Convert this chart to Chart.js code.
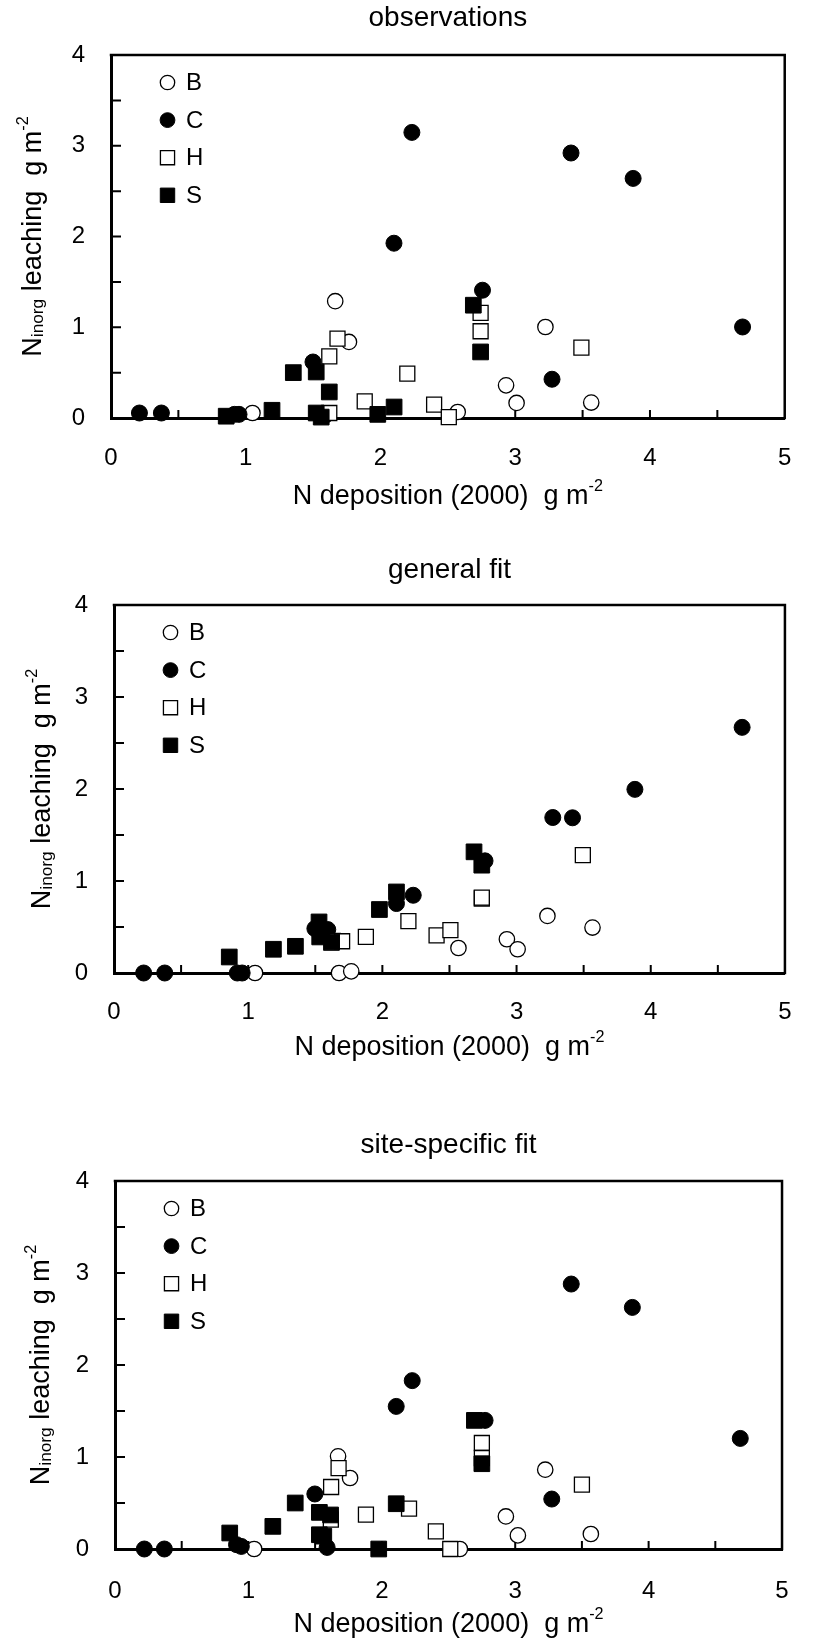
<!DOCTYPE html>
<html>
<head>
<meta charset="utf-8">
<title>N leaching vs N deposition</title>
<script src="https://cdn.jsdelivr.net/npm/chart.js@4.4.1/dist/chart.umd.min.js"></script>
<style>
  html, body { margin: 0; padding: 0; background: #fff; }
  body { width: 817px; height: 1640px; position: relative; overflow: hidden; }
  canvas { position: absolute; left: 0; }
</style>
</head>
<body>
<canvas id="panel0" width="817" height="530"></canvas>
<canvas id="panel1" width="817" height="555"></canvas>
<canvas id="panel2" width="817" height="555"></canvas>
<script>
const SERIES = ["B", "C", "H", "S"];
const PANEL_TITLES = ["observations", "general fit", "site-specific fit"];
const X_TICKS = [0, 1, 2, 3, 4, 5];
const Y_TICKS = [0, 1, 2, 3, 4];
const X_TICK_MARKS = [0.5, 1, 1.5, 2, 2.5, 3, 3.5, 4, 4.5];
const Y_TICK_MARKS = [0.5, 1, 1.5, 2, 2.5, 3, 3.5];
const X_TITLE = [{ t: "N deposition (2000)  g m" }, { t: "-2", sup: true }];
const Y_TITLE = [{ t: "N" }, { t: "inorg", sub: true }, { t: " leaching  g m" }, { t: "-2", sup: true }];

// observations
const obsBx = [1.05, 1.664, 1.766, 2.573, 2.932, 3.01, 3.224, 3.564];
const obsBy = [0.055, 1.287, 0.838, 0.066, 0.36, 0.166, 1.003, 0.17];
const obsCx = [0.211, 0.374, 0.916, 0.95, 1.499, 1.59, 2.10, 2.233, 2.757, 3.273, 3.414, 3.875, 4.687];
const obsCy = [0.055, 0.055, 0.04, 0.04, 0.617, 0.03, 1.926, 3.147, 1.408, 0.427, 2.92, 2.64, 1.003];
const obsHx = [1.62, 1.62, 1.681, 1.883, 2.199, 2.398, 2.507, 2.743, 2.743, 3.491];
const obsHy = [0.055, 0.68, 0.875, 0.184, 0.49, 0.148, 0.01, 1.158, 0.956, 0.776];
const obsSx = [0.855, 1.195, 1.353, 1.523, 1.523, 1.56, 1.62, 1.98, 2.101, 2.689, 2.743];
const obsSy = [0.02, 0.085, 0.50, 0.507, 0.055, 0.01, 0.287, 0.04, 0.121, 1.243, 0.728];

// general fit
const genBx = [1.051, 1.677, 1.768, 2.567, 2.928, 3.008, 3.23, 3.566];
const genBy = [0, 0, 0.018, 0.272, 0.367, 0.258, 0.62, 0.494];
const genCx = [0.221, 0.378, 0.919, 0.955, 1.497, 1.593, 2.105, 2.23, 2.765, 3.27, 3.417, 3.882, 4.681];
const genCy = [0, 0, 0, 0, 0.483, 0.472, 0.755, 0.845, 1.219, 1.69, 1.687, 1.996, 2.67];
const genHx = [1.62, 1.63, 1.70, 1.877, 2.194, 2.404, 2.507, 2.741, 2.741, 3.494];
const genHy = [0.33, 0.35, 0.345, 0.392, 0.563, 0.41, 0.465, 0.81, 0.82, 1.281];
const genSx = [0.859, 1.188, 1.352, 1.528, 1.533, 1.55, 1.622, 1.978, 2.105, 2.683, 2.741];
const genSy = [0.174, 0.258, 0.29, 0.555, 0.392, 0.45, 0.337, 0.69, 0.881, 1.317, 1.172];

// site-specific fit
const siteBx = [1.043, 1.672, 1.762, 2.585, 2.93, 3.02, 3.225, 3.567];
const siteBy = [0, 1.007, 0.772, 0, 0.354, 0.148, 0.862, 0.163];
const siteCx = [0.22, 0.37, 0.911, 0.947, 1.498, 1.59, 2.108, 2.228, 2.774, 3.274, 3.42, 3.878, 4.687];
const siteCy = [0, 0, 0.047, 0.028, 0.598, 0.017, 1.55, 1.83, 1.398, 0.543, 2.88, 2.626, 1.202];
const siteHx = [1.618, 1.62, 1.676, 1.881, 2.204, 2.405, 2.513, 2.75, 2.75, 3.5];
const siteHy = [0.32, 0.674, 0.88, 0.373, 0.438, 0.191, 0, 1.152, 0.989, 0.699];
const siteSx = [0.86, 1.183, 1.351, 1.532, 1.532, 1.565, 1.616, 1.977, 2.108, 2.694, 2.75];
const siteSy = [0.174, 0.246, 0.5, 0.398, 0.155, 0.14, 0.37, 0, 0.492, 1.398, 0.927];

const PANEL_X = [[obsBx, obsCx, obsHx, obsSx], [genBx, genCx, genHx, genSx], [siteBx, siteCx, siteHx, siteSx]];
const PANEL_Y = [[obsBy, obsCy, obsHy, obsSy], [genBy, genCy, genHy, genSy], [siteBy, siteCy, siteHy, siteSy]];

// page placement of each panel (canvas top, plot box edges inside the canvas)
const LAYOUT = [
    { top: 0, height: 530, left: 111, right: 797, plotTop: 55, plotBottom: 418, titleY: 18, tickPad: 25.6, xTitleDy: 76, yTitleX: 31 },
    { top: 530, height: 555, left: 114, right: 808, plotTop: 75, plotBottom: 443, titleY: 40, tickPad: 25.4, xTitleDy: 72.5, yTitleX: 40 },
    { top: 1085, height: 555, left: 115, right: 808, plotTop: 96, plotBottom: 464, titleY: 60, tickPad: 28.3, xTitleDy: 73.5, yTitleX: 39 },
];

const FONT = '"Liberation Sans", Arial, Helvetica, sans-serif';
const TITLE_SIZE = 28;
const STYLE = {
    B: { shape: "circle", r: 7.7, fill: "#ffffff", bw: 1.3, legendR: 7.2 },
    C: { shape: "circle", r: 8.0, fill: "#000000", bw: 1, legendR: 7.4 },
    H: { shape: "rect", r: 10.6, fill: "#ffffff", bw: 1.3, legendR: 10.0 },
    S: { shape: "rect", r: 11.1, fill: "#000000", bw: 1, legendR: 10.2 },
};

Chart.defaults.font.family = FONT;
Chart.defaults.color = "#000";

function layoutRich(ctx, parts, size) {
    let w = 0;
    const segs = parts.map(p => {
        const s = p.sub ? size * 0.64 : p.sup ? size * 0.6 : size;
        ctx.font = `${s}px ${FONT}`;
        const seg = { t: p.t, s, x: w, dy: p.sub ? size * 0.1 : p.sup ? -size * 0.48 : 0 };
        w += ctx.measureText(p.t).width;
        return seg;
    });
    return { segs, width: w };
}

function drawRich(ctx, rich, x0, baseline) {
    rich.segs.forEach(seg => {
        ctx.font = `${seg.s}px ${FONT}`;
        ctx.fillText(seg.t, x0 + seg.x, baseline + seg.dy);
    });
}

// top/right frame lines and the inward tick marks
const frame = {
    id: "frame",
    beforeDatasetsDraw(chart) {
        const { ctx, chartArea: a, scales: { x, y } } = chart;
        ctx.save();
        ctx.strokeStyle = "#000";
        ctx.lineCap = "square";
        ctx.lineWidth = 2.5;
        ctx.beginPath();
        ctx.moveTo(a.left, a.top);
        ctx.lineTo(a.right, a.top);
        ctx.lineTo(a.right, a.bottom);
        ctx.stroke();
        ctx.lineCap = "butt";
        ctx.lineWidth = 2;
        ctx.beginPath();
        X_TICK_MARKS.forEach(v => {
            const px = x.getPixelForValue(v);
            ctx.moveTo(px, a.bottom);
            ctx.lineTo(px, a.bottom - 8);
        });
        Y_TICK_MARKS.forEach(v => {
            const py = y.getPixelForValue(v);
            ctx.moveTo(a.left, py);
            ctx.lineTo(a.left + 10, py);
        });
        ctx.stroke();
        ctx.restore();
    },
};

// axis titles with sub/superscripts
const axisTitles = {
    id: "axisTitles",
    afterDraw(chart, args, opts) {
        const { ctx, chartArea: a } = chart;
        const F = 27;
        ctx.save();
        ctx.fillStyle = "#000";
        ctx.textBaseline = "alphabetic";
        const rx = layoutRich(ctx, X_TITLE, F);
        drawRich(ctx, rx, (a.left + a.right) / 2 - rx.width / 2, a.bottom + opts.xDy + 0.358 * F);
        const ry = layoutRich(ctx, Y_TITLE, F);
        ctx.translate(opts.yX, (a.top + a.bottom) / 2);
        ctx.rotate(-Math.PI / 2);
        drawRich(ctx, ry, -ry.width / 2, 0.358 * F);
        ctx.restore();
    },
};

// legend in the upper-left corner of the plot box
const cornerLegend = {
    id: "cornerLegend",
    afterDatasetsDraw(chart) {
        const { ctx, chartArea: a } = chart;
        chart.data.datasets.forEach((ds, i) => {
            const st = STYLE[ds.label];
            const cx = a.left + 56.5;
            const cy = a.top + 27.5 + i * 37.6;
            ctx.save();
            ctx.fillStyle = st.fill;
            ctx.strokeStyle = "#000";
            ctx.lineWidth = st.bw;
            if (Chart.helpers && Chart.helpers.drawPoint) {
                Chart.helpers.drawPoint(ctx, { pointStyle: st.shape, radius: st.legendR, rotation: 0, borderWidth: st.bw }, cx, cy);
            } else {
                ctx.beginPath();
                ctx.arc(cx, cy, st.legendR, 0, Math.PI * 2);
                ctx.fill();
                ctx.stroke();
            }
            ctx.fillStyle = "#000";
            ctx.font = `24px ${FONT}`;
            ctx.textBaseline = "middle";
            ctx.fillText(ds.label, cx + 18.5, cy + 1);
            ctx.restore();
        });
    },
};

function buildPanel(p) {
    const L = LAYOUT[p];
    const canvas = document.getElementById(`panel${p}`);
    canvas.style.top = `${L.top}px`;

    const datasets = SERIES.map((name, i) => ({
        label: name,
        data: PANEL_X[p][i].map((v, j) => ({ x: v, y: PANEL_Y[p][i][j] })),
        pointStyle: STYLE[name].shape,
        pointRadius: STYLE[name].r,
        pointHoverRadius: STYLE[name].r,
        backgroundColor: STYLE[name].fill,
        borderColor: "#000",
        borderWidth: STYLE[name].bw,
        showLine: false,
        clip: false,
        order: SERIES.length - i,
    }));

    const titleLine = TITLE_SIZE * 1.2;
    const titleTop = L.titleY - titleLine / 2;

    return new Chart(canvas.getContext("2d"), {
        type: "scatter",
        data: { datasets },
        options: {
            responsive: false,
            animation: false,
            events: [],
            layout: { padding: { left: 0, right: 817 - L.right, top: 0, bottom: 0 } },
            plugins: {
                legend: { display: false },
                tooltip: { enabled: false },
                title: {
                    display: true,
                    text: PANEL_TITLES[p],
                    fullSize: false,
                    color: "#000",
                    font: { family: FONT, size: TITLE_SIZE, weight: "normal" },
                    padding: { top: titleTop, bottom: L.plotTop - titleLine - titleTop },
                },
                axisTitles: { xDy: L.xTitleDy, yX: L.yTitleX },
            },
            scales: {
                x: {
                    type: "linear",
                    min: 0,
                    max: 5,
                    afterBuildTicks: s => { s.ticks = X_TICKS.map(v => ({ value: v })); },
                    ticks: { color: "#000", font: { family: FONT, size: 24 }, padding: L.tickPad, maxRotation: 0 },
                    grid: { display: false, drawTicks: false },
                    border: { display: true, color: "#000", width: 3 },
                    afterFit: s => { s.height = L.height - L.plotBottom; },
                },
                y: {
                    type: "linear",
                    min: 0,
                    max: 4,
                    afterBuildTicks: s => { s.ticks = Y_TICKS.map(v => ({ value: v })); },
                    ticks: { color: "#000", font: { family: FONT, size: 24 }, padding: 26 },
                    grid: { display: false, drawTicks: false },
                    border: { display: true, color: "#000", width: 3 },
                    afterFit: s => { s.width = L.left; },
                },
            },
        },
        plugins: [frame, axisTitles, cornerLegend],
    });
}

PANEL_TITLES.forEach((_, p) => buildPanel(p));
</script>
</body>
</html>
